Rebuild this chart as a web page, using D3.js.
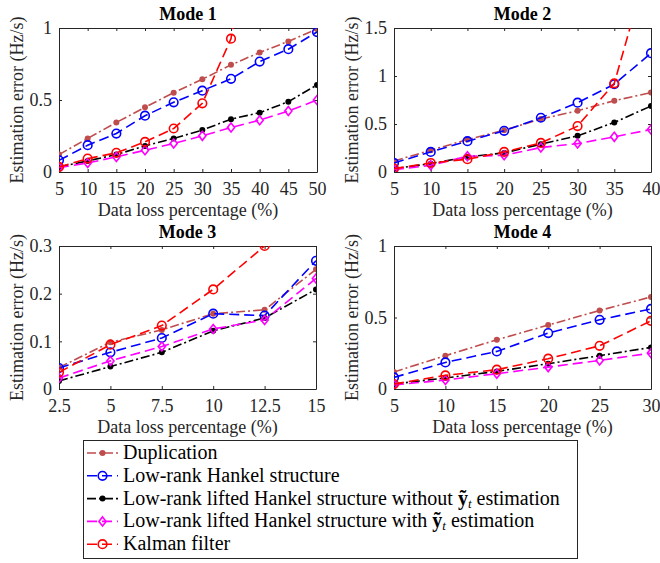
<!DOCTYPE html>
<html>
<head>
<meta charset="utf-8">
<script src="https://cdn.jsdelivr.net/npm/d3@7"></script>
<style>
  body { margin: 0; background: #fff; }
  svg, svg text { font-family: "Liberation Serif", "Times New Roman", serif; }
</style>
</head>
<body>
<div id="chart"></div>
<script>
// size of the figure
var svgWidth = 660;
var svgHeight = 563;

// x values for each mode
var xMode1 = [5, 10, 15, 20, 25, 30, 35, 40, 45, 50];
var xMode2 = [5, 10, 15, 20, 25, 30, 35, 40];
var xMode3 = [2.5, 5, 7.5, 10, 12.5, 15];
var xMode4 = [5, 10, 15, 20, 25, 30];

// Mode 1 errors
var dup1    = [0.121, 0.233, 0.344, 0.449, 0.551, 0.644, 0.744, 0.830, 0.907, 0.993];
var hankel1 = [0.081, 0.186, 0.267, 0.391, 0.484, 0.565, 0.647, 0.767, 0.853, 0.972];
var liftNo1 = [0.035, 0.077, 0.121, 0.181, 0.233, 0.291, 0.367, 0.412, 0.488, 0.605];
var liftY1  = [0.030, 0.063, 0.105, 0.151, 0.198, 0.251, 0.309, 0.360, 0.423, 0.500];
var kalman1 = [0.035, 0.093, 0.133, 0.209, 0.302, 0.477, 0.926, 2.2];

// Mode 2 errors
var dup2    = [0.115, 0.227, 0.338, 0.436, 0.551, 0.638, 0.743, 0.827];
var hankel2 = [0.094, 0.209, 0.321, 0.429, 0.565, 0.722, 0.914, 1.238];
var liftNo2 = [0.035, 0.087, 0.157, 0.199, 0.290, 0.377, 0.516, 0.687];
var liftY2  = [0.024, 0.070, 0.164, 0.174, 0.255, 0.296, 0.366, 0.443];
var kalman2 = [0.035, 0.094, 0.133, 0.209, 0.303, 0.478, 0.924, 2.27];

// Mode 3 errors
var dup3    = [0.045, 0.098, 0.124, 0.158, 0.166, 0.251];
var hankel3 = [0.044, 0.077, 0.107, 0.158, 0.154, 0.269];
var liftNo3 = [0.017, 0.047, 0.077, 0.122, 0.149, 0.209];
var liftY3  = [0.023, 0.059, 0.089, 0.126, 0.145, 0.232];
var kalman3 = [0.035, 0.093, 0.133, 0.209, 0.300];

// Mode 4 errors
var dup4    = [0.119, 0.233, 0.344, 0.447, 0.549, 0.644];
var hankel4 = [0.081, 0.186, 0.263, 0.391, 0.484, 0.560];
var liftNo4 = [0.035, 0.077, 0.123, 0.177, 0.233, 0.291];
var liftY4  = [0.028, 0.063, 0.107, 0.153, 0.200, 0.251];
var kalman4 = [0.035, 0.095, 0.135, 0.212, 0.302, 0.477];

// tick values
var xTicks1 = xMode1, xTicks2 = xMode2, xTicks3 = xMode3, xTicks4 = xMode4;
var yTicks1 = [0, 0.5, 1];
var yTicks2 = [0, 0.5, 1, 1.5];
var yTicks3 = [0, 0.1, 0.2, 0.3];
var yTicks4 = [0, 0.5, 1];

var seriesNames = ["Duplication", "Low-rank Hankel structure",
  "Low-rank lifted Hankel structure without", "Low-rank lifted Hankel structure with",
  "Kalman filter"];

// style for each method (same order as seriesNames)
var styles = [
  {color: "#bf4d4d", dash: "9,3,2,3", marker: "dot"},
  {color: "#0000ff", dash: "10,5", marker: "circle"},
  {color: "#000000", dash: "9,3,2,3", marker: "dot"},
  {color: "#ff00ff", dash: "10,5", marker: "diamond"},
  {color: "#ff0000", dash: "10,5", marker: "circle"}
];

var panels = [
  {title: "Mode 1", x: xMode1, ys: [dup1, hankel1, liftNo1, liftY1, kalman1], xd: [5, 50], yd: [0, 1], xt: xTicks1, yt: yTicks1,
   left: 59, right: 317, top: 28, bottom: 172},
  {title: "Mode 2", x: xMode2, ys: [dup2, hankel2, liftNo2, liftY2, kalman2], xd: [5, 40], yd: [0, 1.5], xt: xTicks2, yt: yTicks2,
   left: 394, right: 651, top: 28, bottom: 172},
  {title: "Mode 3", x: xMode3, ys: [dup3, hankel3, liftNo3, liftY3, kalman3], xd: [2.5, 15], yd: [0, 0.3], xt: xTicks3, yt: yTicks3,
   left: 59, right: 316, top: 246, bottom: 389},
  {title: "Mode 4", x: xMode4, ys: [dup4, hankel4, liftNo4, liftY4, kalman4], xd: [5, 30], yd: [0, 1], xt: xTicks4, yt: yTicks4,
   left: 394, right: 651, top: 246, bottom: 389}
];

var svg = d3.select("#chart")
  .append("svg")
  .attr("width", svgWidth)
  .attr("height", svgHeight);

var defs = svg.append("defs");

function drawMarker(g, type, cx, cy, color) {
  if (type === "dot") {
    g.append("circle").attr("cx", cx).attr("cy", cy).attr("r", 3)
      .attr("fill", color).attr("stroke", "none");
  } else if (type === "circle") {
    g.append("circle").attr("cx", cx).attr("cy", cy).attr("r", 4.3)
      .attr("fill", "none").attr("stroke", color).attr("stroke-width", 1.6);
  } else {
    var s = 4.5;
    g.append("path")
      .attr("d", `M${cx},${cy - s}L${cx + s * 0.8},${cy}L${cx},${cy + s}L${cx - s * 0.8},${cy}Z`)
      .attr("fill", "none").attr("stroke", color).attr("stroke-width", 1.6);
  }
}

function fmt(v) {
  return String(v);
}

panels.forEach(function(p, i) {
  var w = p.right - p.left;
  var h = p.bottom - p.top;
  var x = d3.scaleLinear().domain(p.xd).range([0, w]);
  var y = d3.scaleLinear().domain(p.yd).range([h, 0]);

  var g = svg.append("g").attr("transform", `translate(${p.left}, ${p.top})`);

  defs.append("clipPath").attr("id", "clip" + i)
    .append("rect").attr("x", 0).attr("y", 0).attr("width", w).attr("height", h);

  // axes, MATLAB style with inward ticks on all four sides
  var axisStyle = function(sel) {
    sel.attr("font-family", null).attr("font-size", null);
    sel.select(".domain").attr("stroke", "#262626");
    sel.selectAll(".tick line").attr("stroke", "#262626");
    sel.selectAll("text").attr("fill", "#262626")
      .style("font-size", "18px");
  };

  g.append("g")
    .attr("transform", `translate(0, ${h})`)
    .call(d3.axisBottom(x).tickValues(p.xt).tickSize(-3).tickSizeOuter(0).tickPadding(10).tickFormat(fmt))
    .call(axisStyle);
  g.append("g")
    .call(d3.axisTop(x).tickValues(p.xt).tickSize(-3).tickSizeOuter(0).tickFormat(""))
    .call(axisStyle);
  g.append("g")
    .call(d3.axisLeft(y).tickValues(p.yt).tickSize(-3).tickSizeOuter(0).tickPadding(7).tickFormat(fmt))
    .call(axisStyle);
  g.append("g")
    .attr("transform", `translate(${w}, 0)`)
    .call(d3.axisRight(y).tickValues(p.yt).tickSize(-3).tickSizeOuter(0).tickFormat(""))
    .call(axisStyle);

  var plot = g.append("g").attr("clip-path", `url(#clip${i})`);

  p.ys.forEach(function(vals, k) {
    var st = styles[k];
    var pts = vals.map(function(v, j) { return [p.x[j], v]; });
    var line = d3.line().x(d => x(d[0])).y(d => y(d[1]));
    plot.append("path")
      .datum(pts)
      .attr("d", line)
      .attr("fill", "none")
      .attr("stroke", st.color)
      .attr("stroke-width", 1.6)
      .attr("stroke-dasharray", st.dash);
    pts.forEach(function(d) {
      if (d[1] <= p.yd[1] + 1e-9) drawMarker(plot, st.marker, x(d[0]), y(d[1]), st.color);
    });
  });

  // title
  g.append("text")
    .attr("x", w / 2).attr("y", -8)
    .attr("text-anchor", "middle")
    .style("font-size", "18px").style("font-weight", "bold")
    .text(p.title);

  // x label
  g.append("text")
    .attr("x", w / 2).attr("y", h + 44)
    .attr("text-anchor", "middle")
    .attr("fill", "#262626")
    .style("font-size", "18px")
    .text("Data loss percentage (%)");

  // y label
  g.append("text")
    .attr("transform", "rotate(-90)")
    .attr("x", -h / 2).attr("y", -36)
    .attr("text-anchor", "middle")
    .attr("fill", "#262626")
    .style("font-size", "18px")
    .text("Estimation error (Hz/s)");
});

// legend
var legend = svg.append("g");
legend.append("rect")
  .attr("x", 83.5).attr("y", 440.5).attr("width", 494).attr("height", 118)
  .attr("fill", "#fff").attr("stroke", "#262626").attr("stroke-width", 1);

seriesNames.forEach(function(name, k) {
  var st = styles[k];
  var base = 459 + k * 22.8;
  var cy = base - 6;
  legend.append("line")
    .attr("x1", 87).attr("x2", 118).attr("y1", cy).attr("y2", cy)
    .attr("stroke", st.color).attr("stroke-width", 1.6)
    .attr("stroke-dasharray", st.dash);
  drawMarker(legend, st.marker, 102.5, cy, st.color);

  var t = legend.append("text")
    .attr("x", 123).attr("y", base)
    .style("font-size", "20px")
    .attr("fill", "#000")
    .text(name);
  if (k === 2 || k === 3) {
    t.append("tspan").text(" ");
    t.append("tspan").style("font-weight", "bold").text("ỹ");
    t.append("tspan").style("font-style", "italic").style("font-size", "13px")
      .attr("dy", 3).text("t");
    t.append("tspan").attr("dy", -3).text(" estimation");
  }
});
</script>
</body>
</html>
